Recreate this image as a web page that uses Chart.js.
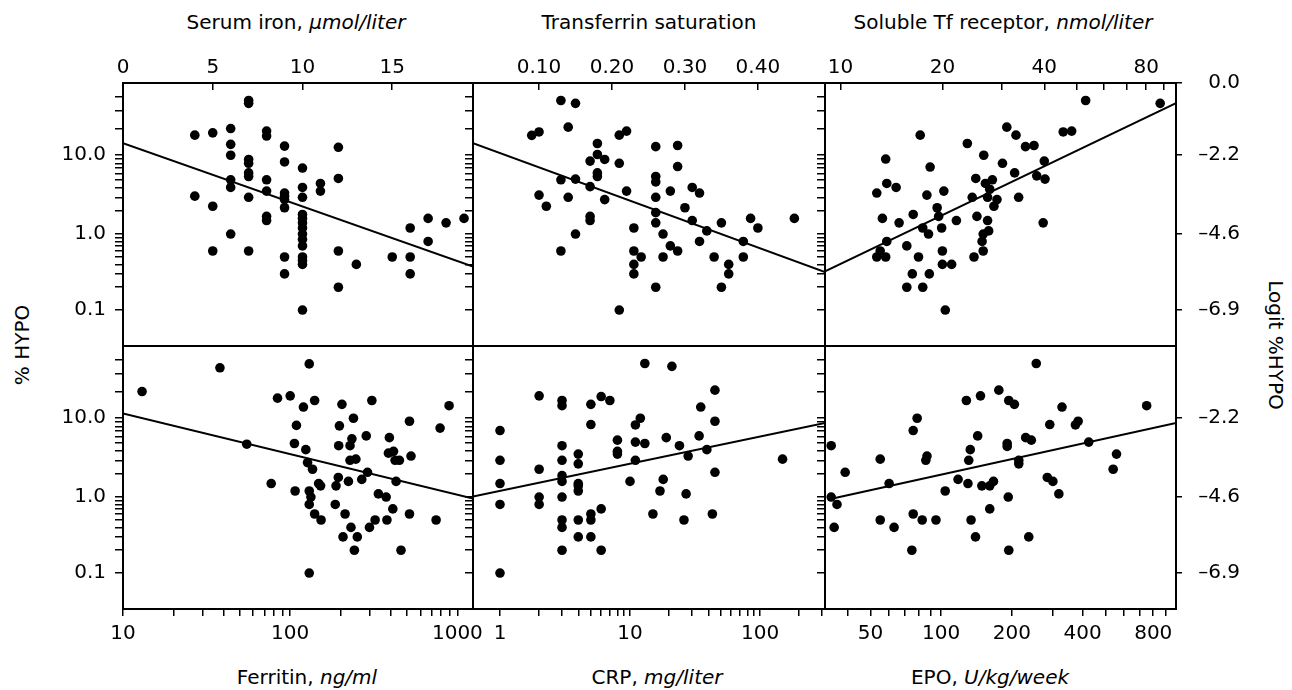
<!DOCTYPE html>
<html>
<head>
<meta charset="utf-8">
<script src="https://cdn.jsdelivr.net/npm/chart.js@4.4.0/dist/chart.umd.min.js"></script>
<style>
  body { margin: 0; background: #fff; }
  #wrap { position: relative; width: 1292px; height: 690px; font-family: "DejaVu Sans"; font-size: 20px; color: #000; line-height: 20px; }
  #wrap canvas { position: absolute; left: 0; top: 0; }
  .t { position: absolute; white-space: nowrap; transform: translateX(-50%); }
  .r { position: absolute; white-space: nowrap; }
</style>
</head>
<body>
<div id="wrap">
  <div class="t" style="left:296px;top:12px">Serum iron, <i>μmol/liter</i></div>
  <div class="t" style="left:649px;top:12px">Transferrin saturation</div>
  <div class="t" style="left:1003px;top:12px">Soluble Tf receptor, <i>nmol/liter</i></div>
  <div class="t" style="left:307px;top:667px">Ferritin, <i>ng/ml</i></div>
  <div class="t" style="left:657px;top:667px">CRP, <i>mg/liter</i></div>
  <div class="t" style="left:990px;top:667px">EPO, <i>U/kg/week</i></div>
  <div class="r" style="left:22px;top:345px;transform:translate(-50%,-50%) rotate(-90deg)">% HYPO</div>
  <div class="r" style="left:1276px;top:345px;transform:translate(-50%,-50%) rotate(90deg)">Logit %HYPO</div>
</div>
<script>
// %HYPO (percent) per patient
const ironX = [4,5,6,6,6,6,6,7,7,7,7,7,7,7,4,5,5,6,7,8,8,8,8,8,8,9,9,9,9,9,9,9,9,10,10,10,10,10,10,10,10,10,10,10,10,10,10,11,11,12,12,12,12,13,15,16,16,16,17,17,18,19];
const ironY = [17,18,20,13.4,10,5,4,37,35,8.9,8,6.1,5.5,3.0,3.1,2.3,0.6,1.0,0.6,18.8,16.6,5,3.6,1.7,1.5,12.8,8.3,3.4,3.1,2.8,2.2,0.5,0.3,7,4,3,1.8,1.6,1.4,1.2,1.0,0.85,0.7,0.5,0.45,0.4,0.1,4.5,3.6,12.4,5.2,0.6,0.2,0.4,0.5,1.2,0.5,0.3,1.6,0.8,1.4,1.6];

const tsatX = [0.13,0.15,0.14,0.09,0.10,0.21,0.22,0.18,0.18,0.19,0.17,0.21,0.18,0.18,0.13,0.15,0.17,0.22,0.10,0.14,0.19,0.11,0.17,0.17,0.15,0.13,0.21,0.26,0.29,0.29,0.26,0.26,0.28,0.26,0.31,0.32,0.30,0.26,0.26,0.31,0.23,0.27,0.33,0.32,0.35,0.39,0.40,0.45,0.38,0.38,0.28,0.29,0.23,0.24,0.27,0.34,0.23,0.23,0.26,0.35,0.36,0.36];
const tsatY = [37,35,20.7,16.9,18.4,17,18.8,13.7,10.2,8.9,8.5,8.0,6.1,5.5,5.0,5.1,4.1,3.6,3.2,3.0,2.8,2.3,1.7,1.5,1.0,0.6,0.1,12.6,13,7.3,5.5,4.7,3.6,3.0,4.0,3.4,2.2,1.9,1.4,1.5,1.2,1.0,1.1,0.8,1.4,1.6,1.2,1.6,0.8,0.5,0.7,0.6,0.6,0.5,0.5,0.5,0.4,0.3,0.2,0.2,0.4,0.3];

const stfrX = [53,88,31,33,17.2,23.7,35.2,37.3,45.5,48.2,13.6,26.5,18.4,30.1,40,13.7,14.6,12.8,25.1,26.8,28.1,32.7,38,40.2,18,20.2,24.5,27.6,27.2,29,28.4,33.6,19.3,19.5,13.3,14.9,16.4,17.5,19.9,18.2,22,25.3,27.2,27.4,26.4,26.2,26.4,39.7,13.7,13.1,12.8,13.6,15.7,17,20,20,21.3,24.8,16.3,18.3,15.7,17.5,20.4];
const stfrY = [37,35,20.7,17,17,13.7,12.6,13,18.4,18.8,9,10,7.2,8.0,8.5,4.5,4.0,3.4,5.2,4.5,5,6.1,5.6,5.1,3.2,3.6,3.0,3.8,3.0,2.8,2.3,3.0,2.2,1.7,1.6,1.4,1.8,1.2,1.2,1.0,1.5,1.7,1.5,1.1,1.0,0.8,0.6,1.4,0.8,0.6,0.5,0.5,0.7,0.5,0.6,0.4,0.4,0.5,0.3,0.3,0.2,0.2,0.1];

const ferritinX = [13,38,130,55,84,100,120,140,109,106,124,127,136,77,107,130,133,130,140,153,148,152,130,204,239,197,234,195,228,228,247,285,308,194,188,223,268,290,186,213,231,207,252,242,298,322,337,375,411,379,392,387,415,424,450,430,517,528,517,460,746,788,892];
const ferritinY = [20,34,36.7,4.8,17,18,13.5,16,8.2,4.9,4.1,2.8,2.3,1.5,1.2,1.2,1.0,0.8,0.6,0.5,1.5,1.4,0.1,14.5,10,8.1,5.6,4.6,4.6,3.0,3.1,6.1,16,1.8,1.4,1.6,1.7,2.1,0.8,0.6,0.4,0.3,0.3,0.2,0.4,0.5,1.1,1.0,0.7,0.5,5.8,3.7,3.9,3.0,3.0,1.6,9.2,3.4,0.6,0.2,0.5,7.6,14];

const crpX = [1,1,1,1,1,2,2,2,2,3,3,3,3,3,3,3,3,3,3,4,4,4,4,4,4,4,5,5,5,5,5,6,7,6,6,8,8,8,11,12,11,13,11,10,13,21,15,17,18,19,24,28,27,26,34,35,39,45,45,45,43,149];
const crpY = [7.1,3.0,1.5,0.8,0.1,18,2.3,1.0,0.8,16,14,4.6,3.0,1.9,1.6,1.0,0.5,0.4,0.2,3.6,2.7,1.5,1.4,1.2,0.5,0.3,14.5,8.4,0.6,0.5,0.3,17.7,16,0.7,0.2,5.4,3.9,3.6,8.3,10,5.1,4.9,3.0,1.6,37,35,0.6,1.2,1.7,5.8,4.6,3.4,1.1,0.5,6.1,13.5,4.1,20.7,9.2,2.1,0.6,3.1];

const epoX = [34,34,36,35,39,55,60,55,63,76,79,76,83,75,86,87,95,104,118,128,147,131,133,143,130,149,161,167,134,140,161,176,194,205,191,191,214,214,193,194,236,254,229,242,290,327,283,299,317,373,383,425,558,540,750];
const epoY = [4.6,1.0,0.8,0.4,2.1,3.1,1.5,0.5,0.4,7.1,10,0.6,0.5,0.2,3.0,3.4,0.5,1.2,1.7,16,18,3.0,4.1,6.1,1.5,1.4,1.4,1.6,0.5,0.3,0.7,20.7,16,14.5,4.9,4.5,3.0,2.7,1.0,0.2,0.3,37,5.8,5.4,8.4,13.5,1.8,1.6,1.1,8.3,9.2,5.1,3.6,2.3,14];

// fitted lines, logit %HYPO at both ends
const ironFitX = [0, 19.5],      ironFitLogit = [-1.83, -5.58];
const tsatFitX = [0.0095, 0.492], tsatFitLogit = [-1.83, -5.75];
const stfrFitX = [9, 98],         stfrFitLogit = [-5.73, -0.61];
const ferritinFitX = [10, 1240],  ferritinFitLogit = [-2.05, -4.64];
const crpFitX = [0.62, 316],      crpFitLogit = [-4.58, -2.34];
const epoFitX = [33, 1000],       epoFitLogit = [-4.67, -2.34];

// tick marks and labels
const ironTicks = [0, 5, 10, 15];
const ironLabels = ['0', '5', '10', '15'];
const tsatTicks = [0.1, 0.2, 0.3, 0.4];
const tsatLabels = ['0.10', '0.20', '0.30', '0.40'];
const stfrTicks = [10, 20, 30, 40, 50, 60, 70, 80, 90];
const stfrLabels = ['10', '20', '', '40', '', '', '', '80', ''];
const ferritinTicks = [10, 20, 30, 40, 50, 60, 70, 80, 90, 100, 200, 300, 400, 500, 600, 700, 800, 900, 1000];
const ferritinLabels = ['10', '', '', '', '', '', '', '', '', '100', '', '', '', '', '', '', '', '', '1000'];
const crpTicks = [1, 2, 3, 4, 5, 6, 7, 8, 9, 10, 20, 30, 40, 50, 60, 70, 80, 90, 100, 200, 300];
const crpLabels = ['1', '', '', '', '', '', '', '', '', '10', '', '', '', '', '', '', '', '', '100', '', ''];
const epoTicks = [40, 50, 60, 70, 80, 90, 100, 200, 300, 400, 500, 600, 700, 800, 900];
const epoLabels = ['', '50', '', '', '', '', '100', '200', '', '400', '', '', '', '800', ''];

const hypoTicks = [40, 30, 20, 10, 9, 8, 7, 6, 5, 4, 3, 2, 1, 0.9, 0.8, 0.7, 0.6, 0.5, 0.4, 0.3, 0.2, 0.1];
const hypoLabels = ['', '', '', '10.0', '', '', '', '', '', '', '', '', '1.0', '', '', '', '', '', '', '', '', '0.1'];
const logitTicksPct = [50, 10, 1, 0.1];
const logitLabels = ['0.0', '\u20132.2', '\u20134.6', '\u20136.9'];

// layout of the 3 x 2 grid (page pixels)
const W = 1292, H = 690;
const cols = [123, 473, 825, 1176];
const rows = [83, 346, 609];
const YAXIS_W = 60, XAXIS_H = 40, RAXIS_W = 64;

function logit(p) { return Math.log(p / (100 - p)); }

Chart.defaults.font.family = 'DejaVu Sans';
Chart.defaults.font.size = 20;
Chart.defaults.color = '#000';

const frame = {
  id: 'frame',
  afterDraw(chart) {
    const a = chart.chartArea, c = chart.ctx;
    c.save();
    c.strokeStyle = '#000';
    c.lineWidth = 2;
    c.strokeRect(a.left, a.top, a.right - a.left, a.bottom - a.top);
    c.restore();
  }
};

const panels = [
  { col: 0, row: 0, type: 'linear', min: 0, max: 19.5, x: ironX, y: ironY, fx: ironFitX, fy: ironFitLogit, ticks: ironTicks, labels: ironLabels },
  { col: 1, row: 0, type: 'linear', min: 0.0095, max: 0.492, x: tsatX, y: tsatY, fx: tsatFitX, fy: tsatFitLogit, ticks: tsatTicks, labels: tsatLabels },
  { col: 2, row: 0, type: 'logarithmic', min: 9, max: 98, x: stfrX, y: stfrY, fx: stfrFitX, fy: stfrFitLogit, ticks: stfrTicks, labels: stfrLabels },
  { col: 0, row: 1, type: 'logarithmic', min: 10, max: 1240, x: ferritinX, y: ferritinY, fx: ferritinFitX, fy: ferritinFitLogit, ticks: ferritinTicks, labels: ferritinLabels },
  { col: 1, row: 1, type: 'logarithmic', min: 0.62, max: 316, x: crpX, y: crpY, fx: crpFitX, fy: crpFitLogit, ticks: crpTicks, labels: crpLabels },
  { col: 2, row: 1, type: 'logarithmic', min: 32, max: 1000, x: epoX, y: epoY, fx: epoFitX, fy: epoFitLogit, ticks: epoTicks, labels: epoLabels }
];

function makePanel(p) {
  const cv = document.createElement('canvas');
  cv.width = W; cv.height = H;
  document.getElementById('wrap').appendChild(cv);

  const isTop = p.row === 0;
  const hasRight = p.col === 2;
  const rightPct = isTop ? logitTicksPct : logitTicksPct.slice(1);
  const rightLab = isTop ? logitLabels : logitLabels.slice(1);

  const scales = {
    x: {
      type: p.type, position: isTop ? 'top' : 'bottom', min: p.min, max: p.max, bounds: 'data',
      afterBuildTicks: s => { s.ticks = p.ticks.map(v => ({ value: v })); },
      afterFit: s => { s.height = XAXIS_H; },
      ticks: { autoSkip: false, maxRotation: 0, minRotation: 0, padding: isTop ? 10 : 6,
               callback: (v, i) => p.labels[i] },
      grid: { drawOnChartArea: false, tickLength: isTop ? -7 : 7, color: '#000', lineWidth: 1.5 },
      border: { display: false }
    },
    y: {
      type: 'linear', position: 'left', min: -8, max: 0, bounds: 'data',
      afterBuildTicks: s => { s.ticks = hypoTicks.map(v => ({ value: logit(v) })); },
      afterFit: s => { s.width = YAXIS_W; },
      ticks: { autoSkip: false, padding: 9, callback: (v, i) => p.col === 0 ? hypoLabels[i] : '' },
      grid: { drawOnChartArea: false, tickLength: 8, color: '#000', lineWidth: 1.5 },
      border: { display: false }
    }
  };
  if (hasRight) {
    scales.y2 = {
      type: 'linear', position: 'right', min: -8, max: 0, bounds: 'data',
      afterBuildTicks: s => { s.ticks = rightPct.map(v => ({ value: logit(v) })); },
      afterFit: s => { s.width = RAXIS_W; },
      ticks: { autoSkip: false, crossAlign: 'far', padding: 10, callback: (v, i) => rightLab[i] },
      grid: { drawOnChartArea: false, tickLength: 6, color: '#000', lineWidth: 1.5 },
      border: { display: false }
    };
  }

  const padding = {
    left: cols[p.col] - YAXIS_W,
    right: W - cols[p.col + 1] - (hasRight ? RAXIS_W : 0),
    top: isTop ? rows[0] - XAXIS_H : rows[1],
    bottom: isTop ? H - rows[1] : H - rows[2] - XAXIS_H
  };

  new Chart(cv, {
    type: 'scatter',
    data: {
      datasets: [
        {
          data: p.x.map((v, i) => ({ x: v, y: logit(p.y[i]) })),
          backgroundColor: '#000', borderWidth: 0, pointRadius: 4.8, pointHoverRadius: 4.8
        },
        {
          data: p.fx.map((v, i) => ({ x: v, y: p.fy[i] })),
          showLine: true, pointRadius: 0, borderColor: '#000', borderWidth: 2, fill: false
        }
      ]
    },
    options: {
      responsive: false, animation: false, devicePixelRatio: 1,
      layout: { padding: padding },
      plugins: { legend: { display: false }, tooltip: { enabled: false } },
      scales: scales
    },
    plugins: [frame]
  });
}

panels.forEach(makePanel);
</script>
</body>
</html>
